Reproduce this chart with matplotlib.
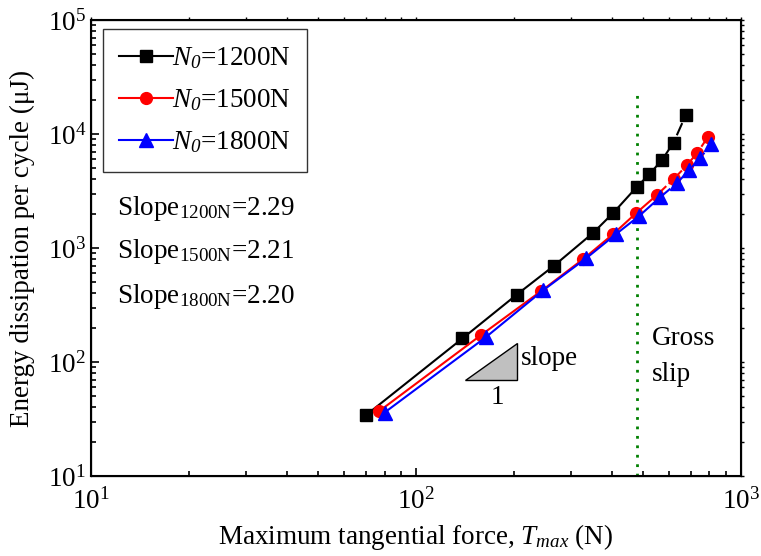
import matplotlib.pyplot as plt
import numpy as np

plt.rcParams['font.family'] = ['Liberation Serif', 'DejaVu Serif']
plt.rcParams['mathtext.fontset'] = 'custom'
plt.rcParams['mathtext.rm'] = 'Liberation Serif'
plt.rcParams['mathtext.it'] = 'Liberation Serif:italic'
plt.rcParams['mathtext.sf'] = 'Liberation Serif:italic'   # pour un chiffre en italique

# Tmax (N) et energie dissipee (uJ)
t_1200 = [70, 139, 204, 266, 351, 405, 477, 522, 571, 620, 677]
e_1200 = [34, 161, 389, 700, 1360, 2040, 3410, 4430, 5900, 8400, 14750]
t_1500 = [77, 158, 243, 327, 405, 475, 550, 620, 681, 734, 790]
e_1500 = [37, 171, 420, 800, 1330, 2015, 2900, 4010, 5300, 6860, 9350]
t_1800 = [80, 164, 246, 334, 412, 486, 564, 634, 693, 748, 809]
e_1800 = [36, 165, 425, 813, 1320, 1910, 2790, 3690, 4830, 6120, 8130]

labels = ["1200N", "1500N", "1800N"]
pentes = ["2.29", "2.21", "2.20"]
gross_slip = 480
tri_x = [141.5, 204, 204]
tri_y = [69.5, 69.5, 147.6]
i_gs = 6   # debut du glissement total

fs = 19.5
series = [(t_1200, e_1200, 'k', 's', 8), (t_1500, e_1500, 'r', 'o', 8.5),
          (t_1800, e_1800, 'b', '^', 9.5)]

fig = plt.figure(figsize=(7.61, 5.56), dpi=100)
ax = fig.add_axes([0.1196, 0.1439, 0.8541, 0.8201])

for k, (t, e, c, m, ms) in enumerate(series):
    ax.plot(t[:i_gs + 1], e[:i_gs + 1], '-', color=c, lw=1.5, zorder=3 + k)
    ax.plot(t[i_gs:], e[i_gs:], '-.', color=c, lw=1.5, zorder=3 + k)
    ax.plot(t, e, m, color=c, ms=ms, mec=c, ls='none', zorder=3 + k)
    ax.plot([], [], '-', marker=m, color=c, ms=ms, lw=1.5,
            label=r"$\mathit{N}_{\mathsf{0}}$=" + labels[k])

ax.axvline(gross_slip, ymax=0.845, color='green', ls=(0, (1, 2.4)), lw=2)

ax.fill(tri_x, tri_y, facecolor='#c0c0c0', edgecolor='k', lw=1)
ax.text(tri_x[1] * 1.03, 108, "slope", fontsize=fs, va='center', ha='left')
ax.text(np.sqrt(tri_x[0] * tri_x[1]) * 1.05, 49, "1", fontsize=fs,
        va='center', ha='center')

y_txt = [0.572, 0.478, 0.379]
for k in range(3):
    ax.text(0.04, y_txt[k], "Slope$_{\\mathrm{" + labels[k] + "}}$=" + pentes[k],
            transform=ax.transAxes, fontsize=fs, va='baseline')
ax.text(0.863, 0.3026, "Gross", transform=ax.transAxes, fontsize=fs,
        va='center', ha='left')
ax.text(0.863, 0.2215, "slip", transform=ax.transAxes, fontsize=fs,
        va='center', ha='left')

ax.set_xscale('log')
ax.set_yscale('log')
ax.set_xlim(10, 1000)
ax.set_ylim(10, 1e5)
ax.set_xlabel(r"Maximum tangential force, $T_{max}$ (N)", fontsize=fs, labelpad=5)
ax.set_ylabel("Energy dissipation per cycle (μJ)", fontsize=fs, labelpad=9)

ax.tick_params(which='both', direction='in', labelsize=fs, width=1.2)
ax.tick_params(which='major', length=6)
ax.tick_params(which='minor', length=3.5)
ax.tick_params(axis='x', which='major', pad=9)
for s in ax.spines.values():
    s.set_linewidth(1.5)

# petites graduations exterieures en haut et a droite
axr = ax.twinx()
axr.set_yscale('log')
axr.set_ylim(ax.get_ylim())
axr.tick_params(which='both', direction='out', length=2.5, width=1,
                labelright=False)
axt = ax.twiny()
axt.set_xscale('log')
axt.set_xlim(ax.get_xlim())
axt.tick_params(which='both', direction='out', length=2.5, width=1,
                labeltop=False)

leg = ax.legend(loc='upper left', bbox_to_anchor=(0.0185, 0.980), fontsize=fs,
                handlelength=2.0, handletextpad=-0.05, borderpad=0.6,
                labelspacing=0.6, fancybox=False, edgecolor='k',
                borderaxespad=0)
leg.get_frame().set_linewidth(1.0)

plt.savefig("out.png", dpi=100)
